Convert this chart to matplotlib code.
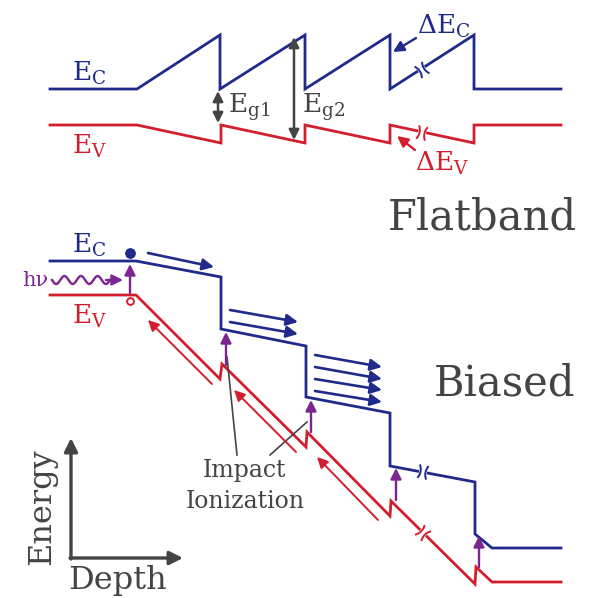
import numpy as np
import matplotlib.pyplot as plt

plt.rcParams['mathtext.fontset'] = 'dejavuserif'
plt.rcParams['font.family'] = 'DejaVu Serif'

BLUE = '#1f2a8a'
RED = '#d21f2d'
PURPLE = '#7a2590'
GRAY = '#444444'

# band edges, pixel coords of the sketch (x = depth, y = down)
flat_ec_x = [50, 137, 220, 220, 305, 305, 390, 390, 474, 474, 561]
flat_ec_y = [89, 89, 35, 89, 35, 89, 35, 89, 35, 89, 89]
flat_ev_x = [50, 137, 221, 221, 305, 305, 390, 390, 474, 474, 561]
flat_ev_y = [125, 125, 143, 125, 143, 125, 143, 125, 143, 125, 125]

bias_ec_x = [50, 136, 221, 221, 306, 306, 390, 390, 475, 475, 492, 561]
bias_ec_y = [261, 261, 277, 329, 346, 397, 413, 466, 482, 534, 548, 548]
bias_ev_x = [50, 136, 220, 222, 306, 307, 390, 391, 475, 476, 492, 561]
bias_ev_y = [295, 295, 379, 364, 447, 432, 516, 501, 584, 567, 582, 582]

# carrier arrows (tail, head)
electron_arrows = [((148, 253), (214, 267)),
                   ((230, 310), (298, 322)), ((230, 322), (298, 334)),
                   ((315, 355), (382, 367)), ((315, 367), (382, 379)),
                   ((315, 379), (382, 390)), ((315, 391), (382, 402))]
hole_arrows = [((212, 384), (148, 320)),
               ((296, 452), (234, 390)),
               ((378, 520), (317, 457))]
excite_x = [130, 226, 311, 396, 479]
excite_y0 = [293, 365, 432, 500, 567]
excite_y1 = [264, 332, 400, 468, 536]

# break marks: point and the segment direction
breaks = [((422, 70), (84, -54), BLUE), ((422, 133), (84, 18), RED),
          ((423, 472), (85, 16), BLUE), ((423, 533), (84, 83), RED)]

fig = plt.figure(figsize=(5.94, 5.98), dpi=100)
ax = fig.add_axes([0, 0, 1, 1])
ax.set_xlim(0, 594)
ax.set_ylim(598, 0)
ax.axis('off')

lw = 2.0
ax.plot(flat_ec_x, flat_ec_y, color=BLUE, lw=lw, solid_joinstyle='miter')
ax.plot(flat_ev_x, flat_ev_y, color=RED, lw=lw, solid_joinstyle='miter')
ax.plot(bias_ec_x, bias_ec_y, color=BLUE, lw=lw, solid_joinstyle='miter')
ax.plot(bias_ev_x, bias_ev_y, color=RED, lw=lw, solid_joinstyle='miter')

tt = np.linspace(-6, 6, 20)
for (x0, y0), (dx, dy), c in breaks:
    d = np.array([dx, dy], float)
    d /= np.hypot(*d)
    n = np.array([-d[1], d[0]])
    if n[1] < 0:
        n = -n
    ax.plot([x0 - 4 * d[0], x0 + 4 * d[0]], [y0 - 4 * d[1], y0 + 4 * d[1]],
            color='white', lw=4, zorder=3, solid_capstyle='butt')
    for s in (-4, 4):
        cx, cy = x0 + s * d[0], y0 + s * d[1]
        bulge = -np.sign(s) * 1.5 * (1 - (tt / 6) ** 2)
        ax.plot(cx + bulge * d[0] + tt * n[0], cy + bulge * d[1] + tt * n[1],
                color=c, lw=1.4, zorder=4)


def arrow(tail, head, color, lw=1.6, ms=14, style='-|>'):
    ax.annotate('', xy=head, xytext=tail,
                arrowprops=dict(arrowstyle=style, color=color, lw=lw,
                                mutation_scale=ms, shrinkA=0, shrinkB=0))


for t, h in electron_arrows:
    arrow(t, h, BLUE, lw=1.9, ms=17)
for t, h in hole_arrows:
    arrow(t, h, RED, lw=1.4, ms=16)
for x, y0, y1 in zip(excite_x, excite_y0, excite_y1):
    arrow((x, y0), (x, y1), PURPLE, lw=1.7, ms=16)

# electron and hole
ax.scatter([130], [253], s=45, color=BLUE, zorder=5)
ax.scatter([130], [301], s=24, facecolor='white', edgecolor=RED, lw=1.4, zorder=5)

# photon
wx = np.linspace(52, 110, 200)
wy = 280 + 4 * np.sin((wx - 52) / 58 * 2 * np.pi * 3.5)
ax.plot(wx, wy, color=PURPLE, lw=1.7)
arrow((106, 280), (123, 280), PURPLE, lw=1.7, ms=16)
ax.text(35, 280, 'hν', color=PURPLE, fontsize=15, ha='center', va='center')

# band gap arrows
arrow((218, 91), (218, 123), GRAY, lw=1.8, ms=15, style='<|-|>')
arrow((294, 37), (294, 140), GRAY, lw=1.8, ms=15, style='<|-|>')
ax.text(228, 107, r'$\mathrm{E_{g1}}$', color=GRAY, fontsize=19, va='center')
ax.text(302, 107, r'$\mathrm{E_{g2}}$', color=GRAY, fontsize=19, va='center')

# offsets
arrow((416, 38), (393, 52), BLUE, lw=1.7, ms=16)
arrow((415, 150), (397, 136), RED, lw=1.7, ms=16)
ax.text(417, 26, r'$\mathrm{\Delta E_C}$', color=BLUE, fontsize=19, va='center')
ax.text(415, 163, r'$\mathrm{\Delta E_V}$', color=RED, fontsize=19, va='center')

# band labels
ax.text(72, 73, r'$\mathrm{E_C}$', color=BLUE, fontsize=19, va='center')
ax.text(72, 146, r'$\mathrm{E_V}$', color=RED, fontsize=19, va='center')
ax.text(72, 245, r'$\mathrm{E_C}$', color=BLUE, fontsize=19, va='center')
ax.text(72, 316, r'$\mathrm{E_V}$', color=RED, fontsize=19, va='center')

ax.text(482, 218, 'Flatband', color=GRAY, fontsize=30, ha='center', va='center')
ax.text(505, 384, 'Biased', color=GRAY, fontsize=30, ha='center', va='center')

# impact ionization
ax.plot([237, 227], [455, 357], color=GRAY, lw=1.2)
ax.plot([270, 307], [455, 422], color=GRAY, lw=1.2)
ax.text(245, 470, 'Impact', color=GRAY, fontsize=17, ha='center', va='center')
ax.text(245, 502, 'Ionization', color=GRAY, fontsize=17, ha='center', va='center')

# axes glyph
arrow((71, 559), (71, 438), GRAY, lw=2.4, ms=20)
arrow((70, 558), (183, 558), GRAY, lw=2.4, ms=20)
ax.text(42, 507, 'Energy', color=GRAY, fontsize=23, rotation=90,
        ha='center', va='center')
ax.text(118, 581, 'Depth', color=GRAY, fontsize=23, ha='center', va='center')

fig.savefig('out.png', dpi=100)
